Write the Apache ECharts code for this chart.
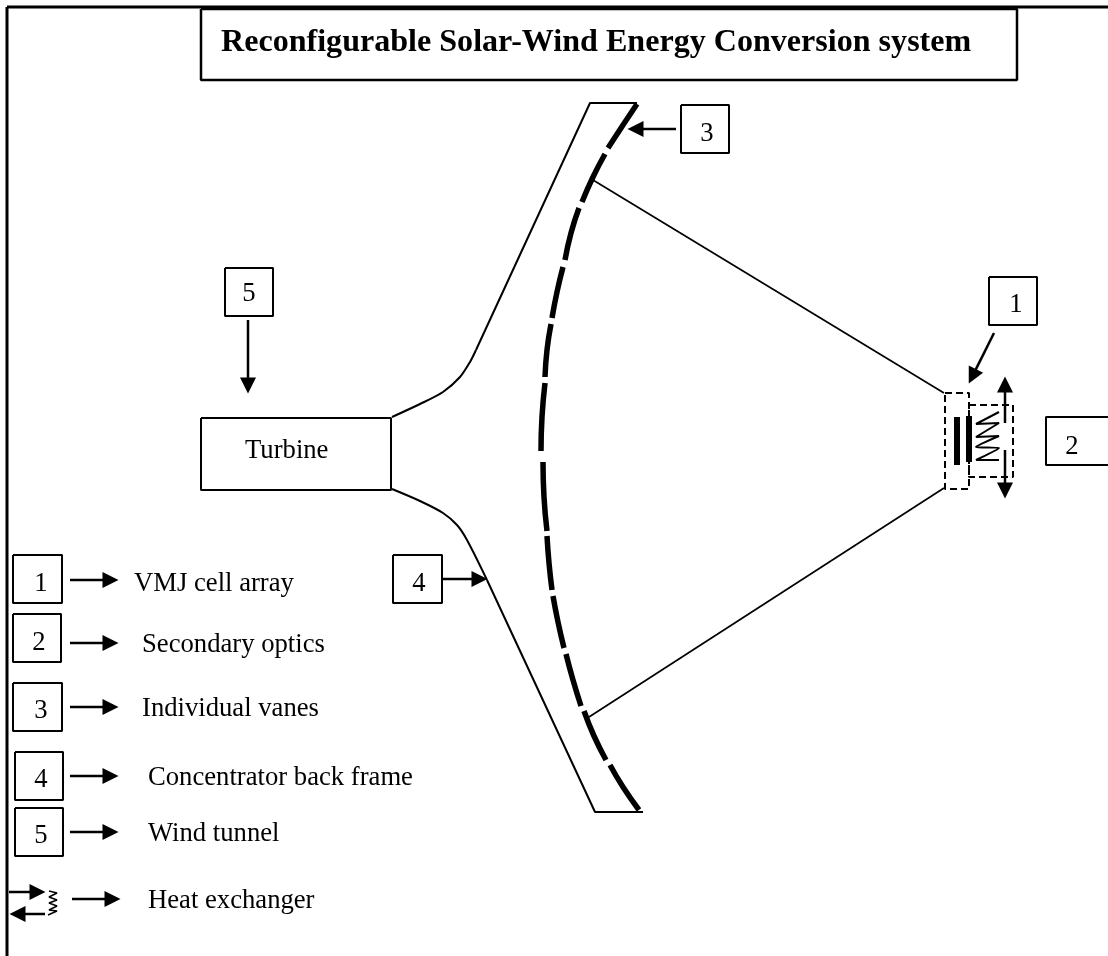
<!DOCTYPE html>
<html>
<head>
<meta charset="utf-8">
<style>
  html, body { margin: 0; padding: 0; background: #fff; }
  #main { width: 1108px; height: 956px; }
</style>
<script src="https://cdn.jsdelivr.net/npm/echarts@6/dist/echarts.min.js"></script>
</head>
<body>
<div id="main"></div>
<script>
// page frame and boxes: [x0, y0, x1, y1]
const frameLines = [[7, 7, 7, 956], [7, 7, 1108, 7]]
const titleBox = [201, 9, 1017, 80]
const thinBoxes = [
  [201, 418, 391, 490],
  [225, 268, 273, 316],
  [681, 105, 729, 153],
  [989, 277, 1037, 325],
  [393, 555, 442, 603],
  [13, 555, 62, 603],
  [13, 614, 61, 662],
  [13, 683, 62, 731],
  [15, 752, 63, 800],
  [15, 808, 63, 856]
]
// box 2 runs off the right edge, no right side
const openBox = [[1108, 417], [1046, 417], [1046, 465], [1108, 465]]
const dashedBoxes = [[945, 393, 969, 489], [969, 405, 1013, 477]]

// concentrator vanes, one list per segment
const vanes = [
  [[637, 104], [623, 125], [608, 148]],
  [[605, 154], [593, 177], [582, 202]],
  [[579, 208], [571, 233], [565, 260]],
  [[563, 267], [557, 292], [552, 318]],
  [[551, 324], [547, 350], [545, 377]],
  [[545, 383], [542, 417], [541, 451]],
  [[543, 462], [544, 497], [547, 531]],
  [[547, 536], [549, 563], [552, 590]],
  [[553, 596], [558, 622], [564, 648]],
  [[566, 654], [573, 680], [581, 706]],
  [[584, 711], [594, 736], [606, 760]],
  [[610, 765], [623, 787], [639, 810]]
]
// back frame / wind tunnel outline, straight parts kept apart from the bends
const frameTop = [[637, 103], [590, 103], [476, 350]]
const bendUpper = [[476, 350], [470, 362], [460, 377], [443, 392], [420, 404], [392, 417]]
const bendLower = [[392, 489], [420, 501], [443, 513], [457, 525], [467, 540], [487, 580]]
const frameBottom = [[487, 580], [595, 812], [643, 812]]
const rays = [[593, 180, 944, 393], [589, 717, 944, 488]]
const cellBars = [[957, 417, 957, 465], [969, 416, 969, 462]]
const coilLarge = [[999, 412], [976, 424], [999, 423], [976, 437], [999, 436], [976, 447], [999, 448], [976, 460], [999, 460]]
const coilSmall = [[49, 891], [57, 893], [49, 897], [57, 900], [49, 903], [57, 906], [49, 910], [57, 911], [48, 915]]

// arrows: [fromX, fromY, tipX, tipY]
const arrows = [
  [994, 333, 969, 383],
  [1005, 423, 1005, 377],
  [1005, 450, 1005, 498],
  [676, 129, 628, 129],
  [248, 320, 248, 393],
  [442, 579, 487, 579],
  [70, 580, 118, 580],
  [70, 643, 118, 643],
  [70, 707, 118, 707],
  [70, 776, 118, 776],
  [70, 832, 118, 832],
  [72, 899, 120, 899],
  [9, 892, 45, 892],
  [45, 914, 10, 914]
]

const title = 'Reconfigurable Solar-Wind Energy Conversion system'
const numberLabels = [
  ['5', 249, 294], ['3', 707, 134], ['1', 1016, 305], ['2', 1072, 447],
  ['4', 419, 584], ['1', 41, 584], ['2', 39, 643], ['3', 41, 711], ['4', 41, 780], ['5', 41, 836]
]
const textLabels = [
  ['Turbine', 245, 451],
  ['VMJ cell array', 134, 584],
  ['Secondary optics', 142, 645],
  ['Individual vanes', 142, 709],
  ['Concentrator back frame', 148, 778],
  ['Wind tunnel', 148, 834],
  ['Heat exchanger', 148, 901]
]

const font = 'Liberation Serif'
const series = []

function addLine(points, width, extra) {
  series.push(Object.assign({
    type: 'line',
    data: points,
    symbol: 'none',
    silent: true,
    animation: false,
    clip: false,
    lineStyle: { color: '#000', width: width, cap: 'butt' }
  }, extra || {}))
}
function rect(b) {
  return [[b[0], b[1]], [b[2], b[1]], [b[2], b[3]], [b[0], b[3]], [b[0], b[1]]]
}

frameLines.forEach(l => addLine([[l[0], l[1]], [l[2], l[3]]], 3))
addLine(rect(titleBox), 2.5)
thinBoxes.forEach(b => addLine(rect(b), 2))
addLine(openBox, 2)
dashedBoxes.forEach(b => addLine(rect(b), 2, {
  lineStyle: { color: '#000', width: 2, type: [7, 4] }
}))
vanes.forEach(v => addLine(v, 5.5, { smooth: true }))
addLine(frameTop, 2)
addLine(bendUpper, 2, { smooth: 0.3 })
addLine(bendLower, 2, { smooth: 0.3 })
addLine(frameBottom, 2)
rays.forEach(l => addLine([[l[0], l[1]], [l[2], l[3]]], 1.7))
cellBars.forEach(l => addLine([[l[0], l[1]], [l[2], l[3]]], 6))
addLine(coilLarge, 2, { smooth: 0.2 })
addLine(coilSmall, 1.5)

// shaft as a line, head as a triangle symbol pointing along it
const headLen = 15
const heads = []
arrows.forEach(a => {
  const dx = a[2] - a[0]
  const dy = a[3] - a[1]
  const len = Math.sqrt(dx * dx + dy * dy)
  const ux = dx / len
  const uy = dy / len
  addLine([[a[0], a[1]], [a[2] - ux * headLen, a[3] - uy * headLen]], 2.5)
  heads.push({
    value: [a[2] - ux * headLen / 2, a[3] - uy * headLen / 2],
    symbolRotate: -Math.atan2(ux, -uy) * 180 / Math.PI
  })
})
series.push({
  type: 'scatter',
  data: heads,
  symbol: 'triangle',
  symbolSize: [16, 16],
  silent: true,
  animation: false,
  itemStyle: { color: '#000', opacity: 1 }
})

function textSeries(rows, position, size, weight) {
  series.push({
    type: 'scatter',
    symbolSize: 0,
    silent: true,
    animation: false,
    itemStyle: { opacity: 1 },
    data: rows.map(r => ({ value: [r[1], r[2]], name: r[0] })),
    label: {
      show: true,
      position: position,
      distance: 0,
      formatter: p => p.name,
      color: '#000',
      opacity: 1,
      fontFamily: font,
      fontSize: size,
      fontWeight: weight
    }
  })
}
textSeries(numberLabels, 'inside', 26.67, 'normal')
textSeries(textLabels, 'right', 26.67, 'normal')
textSeries([[title, 221, 43]], 'right', 32.1, 'bold')

const chart = echarts.init(document.getElementById('main'), null, { renderer: 'canvas' })
chart.setOption({
  animation: false,
  backgroundColor: '#fff',
  grid: { left: 0, right: 0, top: 0, bottom: 0 },
  xAxis: { type: 'value', min: 0, max: 1108, show: false },
  yAxis: { type: 'value', min: 0, max: 956, inverse: true, show: false },
  series: series
})
</script>
</body>
</html>
